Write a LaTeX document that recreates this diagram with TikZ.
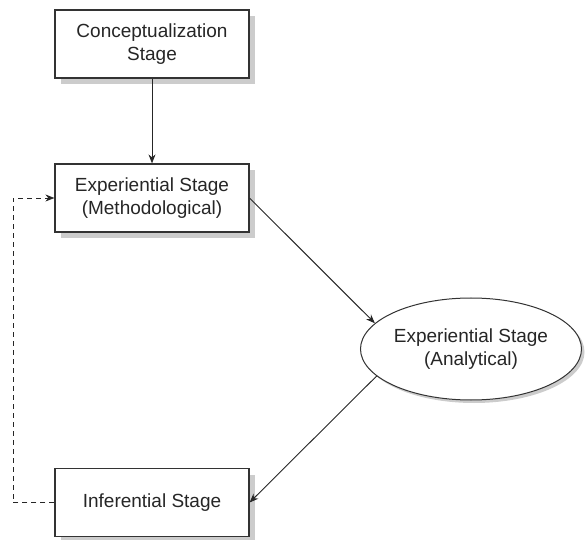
\documentclass[tikz,border=0pt]{standalone}
\usepackage{fontspec}
\setmainfont{Liberation Sans}
\usetikzlibrary{shapes.geometric,shadows,arrows.meta}
\begin{document}
\begin{tikzpicture}[x=1pt,y=-1pt,
  stage/.style={draw=black!80, line width=1.2pt, fill=white,
    minimum width=194pt, minimum height=68pt, align=center, inner sep=2pt,
    text=black!85, font=\fontsize{19}{23}\selectfont,
    drop shadow={shadow xshift=6pt, shadow yshift=-6pt, fill=black!20, opacity=1}},
  oval/.style={ellipse, draw=black!80, line width=1pt, fill=white,
    minimum width=221pt, minimum height=102pt, inner sep=0pt, align=center,
    text=black!85, font=\fontsize{19}{23}\selectfont,
    drop shadow={shadow xshift=3pt, shadow yshift=-3pt, fill=black!20, opacity=1}},
  link/.style={draw=black!85, line width=0.9pt, -{Stealth[length=9pt,width=7pt]}},
  back/.style={link, dashed, dash pattern=on 5pt off 4pt}]
\useasboundingbox (0,0) rectangle (587,540);

\node[stage] (concept) at (152,44) {Conceptualization\\Stage};
\node[stage] (method) at (152,198) {Experiential Stage\\(Methodological)};
\node[oval] (analytic) at (471,349) {Experiential Stage\\(Analytical)};
\node[stage] (infer) at (152,502.5) {Inferential Stage};
\coordinate (loop) at (13,502.5);

\draw[link] (concept) -- (method);
\draw[link] (method.east) -- (analytic.165);
\draw[link] (analytic.196) -- (infer.east);
\draw[back] (infer.west) -- (loop) |- (method.west);
\end{tikzpicture}
\end{document}
